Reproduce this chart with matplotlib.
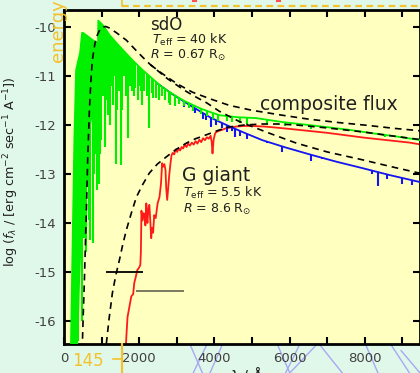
import numpy as np
import matplotlib
matplotlib.use('Agg')
import matplotlib.pyplot as plt
from matplotlib.patches import Polygon
from matplotlib.lines import Line2D

# COMPOSITE FLUX (sdO + G giant), upper envelope
comp_wl = [185, 231, 277, 322, 365, 428, 481, 505, 560, 650, 750, 850, 905, 912,
           1030, 1207, 1400, 1652, 1850, 2094, 2300, 2537, 2750, 2981, 3200, 3424,
           3650, 3867, 4133, 4600, 5117, 5809, 6500, 7059, 7600, 8122, 8800, 9500]
comp_flux = [-16.5, -14.35, -12.24, -10.88, -10.73, -10.53, -10.12, -10.12, -10.15, -10.2,
             -10.26, -10.31, -10.35, -9.87, -9.96, -10.16, -10.33, -10.54, -10.70, -10.88,
             -11.02, -11.18, -11.30, -11.41, -11.51, -11.59, -11.67, -11.73, -11.80, -11.84,
             -11.86, -11.94, -12.0, -12.05, -12.10, -12.16, -12.23, -12.31]
# far-UV region that is blacked out by blended lines
comp_fill_wl = [185, 360, 420, 470, 520, 600, 700, 800, 905]
comp_fill_lo = [-16.5, -16.5, -15.0, -14.2, -12.6, -12.2, -12.0, -11.6, -11.3]
# single absorption lines (wavelength, lowest flux)
comp_line_wl = [380, 470, 540, 585, 640, 670, 700, 760, 805, 850, 890, 940, 965, 990, 1030,
                1060, 1085, 1130, 1150, 1175, 1215, 1240, 1270, 1300, 1330, 1370, 1400, 1430,
                1460, 1490, 1520, 1550, 1600, 1640, 1695, 1750, 1780, 1810, 1850, 1900, 1960,
                2000, 2050, 2080, 2140, 2200, 2270, 2330, 2380, 2450, 2520, 2600, 2700, 2780,
                2830, 2950, 3050, 3200, 3330, 3420, 3650, 3800, 3970, 4100, 4340, 4470, 4690,
                4860, 5410, 5880, 6560, 8540]
comp_line_lo = [-16.4, -16.0, -14.3, -14.6, -13.2, -13.94, -14.35, -14.4, -13.0, -12.6, -13.33,
                -13.2, -12.6, -12.3, -11.4, -10.9, -12.45, -11.5, -10.8, -11.8, -12.0, -11.2,
                -10.9, -11.6, -11.0, -12.8, -11.7, -11.0, -11.3, -11.1, -12.82, -11.7, -11.0,
                -11.4, -12.27, -11.2, -11.0, -11.3, -11.4, -11.25, -11.5, -11.2, -11.3, -11.6,
                -11.3, -11.4, -12.06, -11.35, -11.45, -11.45, -11.5, -11.4, -11.49, -11.55,
                -11.6, -11.62, -11.58, -11.62, -11.66, -11.72, -11.78, -11.82, -11.88, -11.92,
                -11.92, -11.94, -11.96, -11.97, -11.97, -12.02, -12.08, -12.24]

# sdO ALONE
sdo_wl = [2500, 2900, 3400, 3900, 4320, 4800, 5277, 5900, 6580, 7250, 7936, 8650, 9500]
sdo_flux = [-11.16, -11.38, -11.62, -11.85, -12.0, -12.16, -12.31, -12.46, -12.61, -12.75,
            -12.88, -13.02, -13.17]
sdo_line_wl = [3050, 3200, 3480, 3700, 3790, 3920, 4050, 4200, 4340, 4470, 4540, 4690, 4860,
               5410, 5800, 6560, 6870, 7060, 7600, 8200, 8340, 8600, 9000, 9250]
sdo_line_lo = [-11.55, -11.64, -11.76, -11.88, -11.9, -12.04, -12.0, -12.06, -12.14, -12.12,
               -12.24, -12.22, -12.28, -12.37, -12.56, -12.73, -12.7, -12.72, -12.82, -13.0,
               -13.25, -13.1, -13.2, -13.22]

# G GIANT
g_wl = [1640, 1660, 1690, 1730, 1790, 1840, 1870, 1910, 1950, 1990, 2030, 2045, 2060, 2090,
        2120, 2140, 2165, 2190, 2205, 2220, 2245, 2270, 2295, 2320, 2340, 2370, 2400, 2440,
        2490, 2540, 2580, 2610, 2640, 2670, 2700, 2720, 2745, 2770, 2800, 2830, 2860, 2890,
        2930, 2970, 3010, 3050, 3090, 3130, 3170, 3210, 3260, 3300, 3350, 3400, 3450, 3500,
        3550, 3600, 3650, 3700, 3750, 3800, 3850, 3900, 3930, 3950, 3980, 4020, 4060, 4120,
        4200, 4300, 4450, 4600, 4800, 5000, 5300, 5600, 6000, 6500, 7000, 7500, 8000, 8600,
        9200, 9500]
g_flux = [-16.6, -16.3, -15.92, -15.75, -15.5, -15.45, -15.22, -15.1, -14.96, -14.92, -14.86,
          -14.6, -13.75, -13.95, -13.8, -13.84, -14.05, -13.6, -13.9, -14.0, -13.7, -13.63,
          -13.95, -14.31, -14.1, -14.2, -13.84, -13.9, -13.6, -13.47, -13.2, -12.78, -12.85,
          -12.8, -12.92, -13.3, -13.53, -13.3, -13.02, -12.8, -12.62, -12.57, -12.6, -12.5,
          -12.55, -12.48, -12.52, -12.45, -12.48, -12.40, -12.45, -12.38, -12.42, -12.36,
          -12.40, -12.33, -12.38, -12.30, -12.35, -12.27, -12.31, -12.25, -12.28, -12.22,
          -12.35, -12.58, -12.3, -12.17, -12.14, -12.12, -12.1, -12.07, -12.05, -12.03, -12.02,
          -12.02, -12.03, -12.05, -12.08, -12.12, -12.16, -12.21, -12.26, -12.31, -12.36, -12.40]

# BLACKBODY FITS (dashed)
sdo_bb_wl = [475, 489, 515, 543, 570, 596, 630, 676, 715, 755, 820, 888, 950, 1021, 1110,
             1207, 1400, 1660, 1870, 2085, 2300, 2537, 2760, 2989, 3200, 3415, 3800, 4133,
             4665, 5400, 6181, 7000, 7936, 8700, 9500]
sdo_bb_flux = [-16.6, -16.45, -15.8, -15.16, -14.4, -13.73, -12.7, -11.69, -11.1, -10.67,
               -10.35, -10.16, -10.06, -10.0, -9.99, -10.02, -10.12, -10.27, -10.44, -10.61,
               -10.77, -10.92, -11.06, -11.18, -11.29, -11.39, -11.55, -11.72, -11.93, -12.15,
               -12.37, -12.55, -12.71, -12.85, -12.99]
g_bb_wl = [1100, 1128, 1200, 1287, 1380, 1473, 1560, 1660, 1790, 1926, 2090, 2271, 2480,
           2723, 2980, 3255, 3500, 3787, 4100, 4399, 4800, 5277, 5700, 6181, 7000, 7936,
           8700, 9500]
g_bb_flux = [-16.7, -16.45, -15.95, -15.43, -15.06, -14.76, -14.45, -14.14, -13.8, -13.47,
             -13.22, -12.98, -12.8, -12.65, -12.5, -12.37, -12.28, -12.20, -12.11, -12.04,
             -12.0, -11.98, -11.98, -12.0, -12.06, -12.14, -12.22, -12.30]
sum_bb_wl = [2300, 2537, 2989, 3415, 3900, 4400, 5000, 5800, 6500, 7300, 8100, 8800, 9500]
sum_bb_flux = [-10.77, -10.91, -11.15, -11.33, -11.47, -11.6, -11.7, -11.8, -11.88, -11.95,
               -12.01, -12.07, -12.12]

# PHOTOMETRIC BAND MARKERS (wavelength range, flux)
band_lo = [1122, 1918]
band_hi = [2093, 3202]
band_flux = [-15.0, -15.39]
band_color = ['black', '#6e6e58']


def spectrum(ax, wl, flux, line_wl, line_lo, color, z, fill_wl=None, fill_lo=None):
    # envelope outline, then lines clipped under it
    ax.plot(wl, flux, color=color, lw=1.3, zorder=z)
    env = Polygon(list(zip(wl, flux)) + [(wl[-1], -20), (wl[0], -20)], closed=True,
                  transform=ax.transData, fc='none', ec='none')
    ax.add_patch(env)
    lines = ax.vlines(line_wl, line_lo, -9, color=color, lw=1.5, zorder=z)
    lines.set_clip_path(env)
    if fill_wl is not None:
        area = ax.fill_between(fill_wl, fill_lo, -9, color=color, lw=0, zorder=z)
        area.set_clip_path(env)


plt.rcParams['axes.unicode_minus'] = False
plt.rcParams['font.family'] = 'DejaVu Sans'

fig = plt.figure(figsize=(4.2, 3.73), dpi=100, facecolor='#e0f8ea')
ax = fig.add_axes([64 / 420, 29 / 373, 356 / 420, 334 / 373], facecolor='#ffffc0')

spectrum(ax, g_wl, g_flux, [], [], '#ff1a1a', 2)
spectrum(ax, sdo_wl, sdo_flux, sdo_line_wl, sdo_line_lo, '#1414f0', 3)
spectrum(ax, comp_wl, comp_flux, comp_line_wl, comp_line_lo, '#00f000', 4,
         comp_fill_wl, comp_fill_lo)

dash = (0, (4, 3))
ax.plot(sdo_bb_wl, sdo_bb_flux, color='black', lw=1.2, ls=dash, zorder=6)
ax.plot(g_bb_wl, g_bb_flux, color='black', lw=1.2, ls=dash, zorder=6)
ax.plot(sum_bb_wl, sum_bb_flux, color='black', lw=1.2, ls=dash, zorder=6)

for lo, hi, f, c in zip(band_lo, band_hi, band_flux, band_color):
    ax.hlines(f, lo, hi, color=c, lw=1.3, zorder=7)

ax.set_xlim(0, 9470)
ax.set_ylim(-16.47, -9.653)
ax.set_xticks(np.arange(0, 9000, 2000))
ax.set_xticks(np.arange(1000, 9470, 2000), minor=True)
ax.set_yticks(np.arange(-16, -9))
ax.tick_params(which='both', direction='in', length=5, width=1.5, top=True, right=True,
               labelsize=9.5, labelcolor='#404040', pad=6)
for s in ax.spines.values():
    s.set_linewidth(2)

ax.set_ylabel(r'log ($f_\lambda$ / [erg cm$^{-2}$ sec$^{-1}$ A$^{-1}$])', fontsize=9.2,
              color='#202020')
ax.yaxis.set_label_coords(-0.121, 0.515)
ax.set_xlabel(r'$\lambda$ / Å', fontsize=10.5, color='#202020')
ax.xaxis.set_label_coords(0.514, -0.06)

txt = dict(transform=ax.transAxes, va='baseline', color='#202020')
ax.text(0.242, 0.940, 'sdO', fontsize=12, **txt)
ax.text(0.247, 0.898, r'$T_{\rm eff}$ = 40 kK', fontsize=9, **txt)
ax.text(0.242, 0.853, r'$R$ = 0.67 R$_{\odot}$', fontsize=9, **txt)
ax.text(0.551, 0.701, 'composite flux', fontsize=13.5, **txt)
ax.text(0.331, 0.488, 'G giant', fontsize=13.5, **txt)
ax.text(0.334, 0.440, r'$T_{\rm eff}$ = 5.5 kK', fontsize=9, **txt)
ax.text(0.334, 0.392, r'$R$ = 8.6 R$_{\odot}$', fontsize=9, **txt)

# page elements overlapping the screenshot
orange = '#f3c22c'
fig.text(0.137, 0.834, 'energy', rotation=90, color=orange, fontsize=13,
         ha='center', va='bottom')
fig.text(0.171, 0.019, '145', color=orange, fontsize=12, va='baseline')
fig.add_artist(Line2D([0.290, 0.290], [0, 0.0776], color=orange, lw=1.6))
fig.add_artist(Line2D([0.269, 0.288], [0.0375, 0.0375], color=orange, lw=1.2))
fig.add_artist(Line2D([0.290, 0.290], [0.984, 1.0], color=orange, lw=1.2))
fig.add_artist(Line2D([0.290, 1.0], [0.984, 0.984], color=orange, lw=1.6, ls=(0, (3, 2))))
for xr in [0.46, 0.66]:
    fig.add_artist(Line2D([xr, xr + 0.006], [0.996, 0.996], color='#ff5050', lw=1.5))
deco_x0 = [0.452, 0.493, 0.530, 0.660, 0.690, 0.714, 0.760, 0.870, 0.955, 0.975]
deco_x1 = [0.482, 0.460, 0.500, 0.690, 0.755, 0.680, 0.815, 0.900, 1.000, 0.930]
deco_y0 = [0.0776, 0.0776, 0.0776, 0.0776, 0.0, 0.0776, 0.0776, 0.0776, 0.060, 0.0]
deco_y1 = [0.0, 0.0, 0.0, 0.0, 0.0776, 0.0, 0.0, 0.0, 0.0, 0.0776]
for a, b, c, d in zip(deco_x0, deco_x1, deco_y0, deco_y1):
    fig.add_artist(Line2D([a, b], [c, d], color='#a8a8f4', lw=1.0, zorder=-1))

fig.savefig('out.png', dpi=100, facecolor=fig.get_facecolor())
